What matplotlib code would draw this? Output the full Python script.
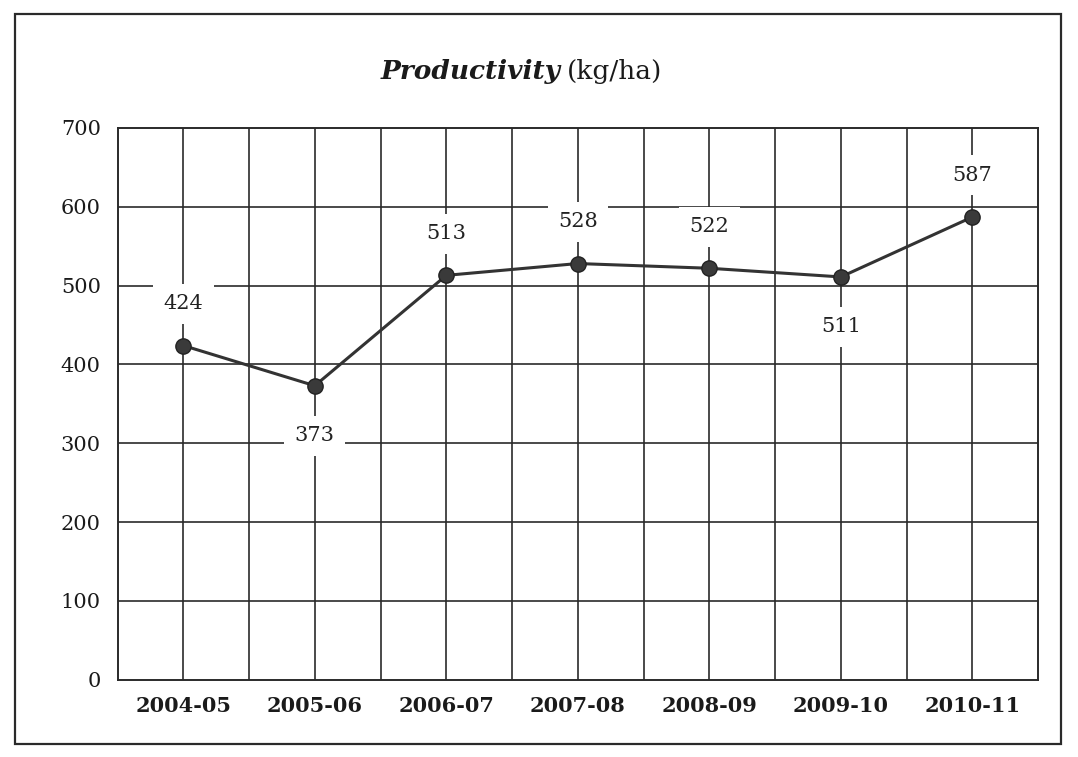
import numpy as np
import matplotlib.pyplot as plt
from matplotlib.patches import Rectangle

years = ["2004-05", "2005-06", "2006-07", "2007-08", "2008-09", "2009-10", "2010-11"]
productivity = [424, 373, 513, 528, 522, 511, 587]
label_above = [True, False, True, True, True, False, True]
y_ticks = [0, 100, 200, 300, 400, 500, 600, 700]

plt.rcParams['font.family'] = ['DejaVu Serif']

fig = plt.figure(figsize=(10.78, 7.57), dpi=100)
ax = fig.add_axes([0.109, 0.102, 0.854, 0.729])

x = np.arange(len(years))

# grid: vertical lines at every half category, horizontal at every 100
for gx in np.arange(0, len(years) - 0.9, 0.5):
    ax.axvline(gx, color='#2a2a2a', lw=1.2, zorder=1)
for gy in y_ticks[1:-1]:
    ax.axhline(gy, color='#2a2a2a', lw=1.2, zorder=1)

ax.plot(x, productivity, color='#333333', lw=2.2, marker='o', markersize=11,
        markerfacecolor='#3a3a3a', markeredgecolor='#222222', zorder=3)

for xi, v, up in zip(x, productivity, label_above):
    dy = 30 if up else -36
    ax.annotate(str(v), (xi, v), xytext=(0, dy), textcoords='offset points',
                ha='center', va='center', fontsize=15, color='#222222',
                bbox=dict(boxstyle='square,pad=0.5', fc='white', ec='none'),
                zorder=4)

ax.set_xlim(-0.5, len(years) - 0.5)
ax.set_ylim(0, 700)
ax.set_xticks(x)
ax.set_xticklabels(years, fontsize=15, fontweight='bold', color='#1a1a1a')
ax.set_yticks(y_ticks)
ax.set_yticklabels([str(t) for t in y_ticks], fontsize=15, color='#1a1a1a')
ax.tick_params(length=0, pad=12)
for sp in ax.spines.values():
    sp.set_color('#2a2a2a')
    sp.set_linewidth(1.4)

# title: italic word plus regular unit
fig.text(0.52, 0.905, "Productivity", fontsize=19, style='italic', fontweight='bold',
         ha='right', va='center', color='#1a1a1a')
fig.text(0.526, 0.905, "(kg/ha)", fontsize=19, ha='left', va='center', color='#1a1a1a')

# outer frame around the whole chart
fig.patches.append(Rectangle((0.014, 0.017), 0.97, 0.965, transform=fig.transFigure,
                             fill=False, ec='#2a2a2a', lw=1.6))

fig.savefig("out.png", dpi=100)
